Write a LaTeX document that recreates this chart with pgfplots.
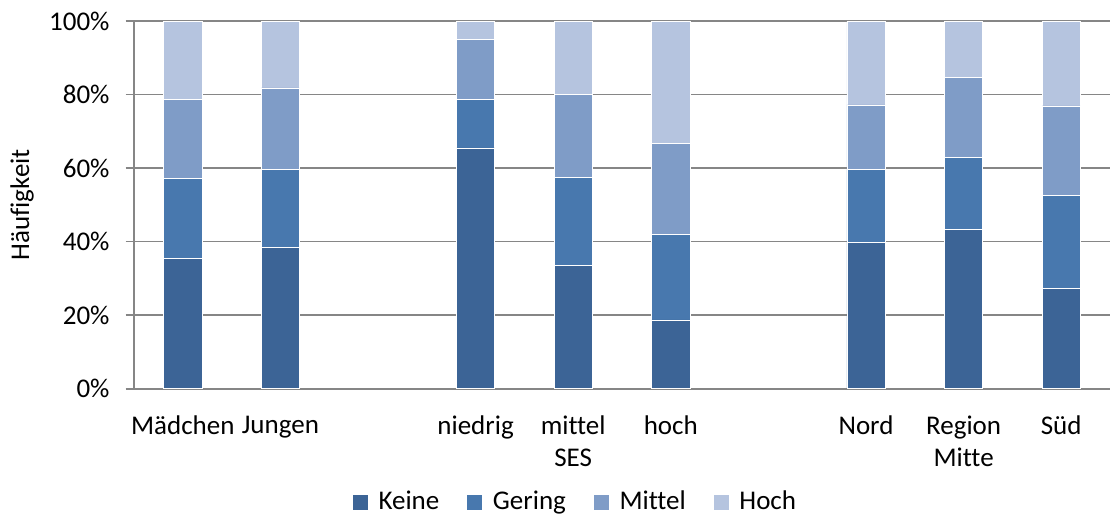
\documentclass[border=0pt]{standalone}
\usepackage{pgfplots}
\usepackage{pgfplotstable}
\pgfplotsset{compat=1.18}
\usepackage{fontspec}
\setmainfont{Carlito}[Ligatures=CommonOff]
\definecolor{cKeine}{HTML}{3C6496}
\definecolor{cGering}{HTML}{4878AE}
\definecolor{cMittel}{HTML}{7F9CC7}
\definecolor{cHoch}{HTML}{B5C4DF}
\definecolor{axgray}{HTML}{868686}
\pgfplotstableread{
x Keine Gering Mittel Hoch
0 35.4 21.9 21.4 21.3
1 38.4 21.2 22.2 18.2
3 65.5 13.1 16.3 5.1
4 33.5 23.9 22.7 19.9
5 18.7 23.2 24.9 33.2
7 39.7 19.9 17.6 22.8
8 43.3 19.5 21.8 15.4
9 27.3 25.2 24.4 23.1
}\data
\begin{document}
\begin{tikzpicture}[font=\fontsize{13.5}{16}\selectfont]
\path[use as bounding box] (-67pt,-63.15pt) rectangle (488pt,194.35pt);
\begin{axis}[
  at={(0,0)}, anchor=south west,
  scale only axis, width=488pt, height=183.85pt,
  ybar stacked, bar width=0.39,
  xmin=-0.5, xmax=9.5, ymin=0, ymax=100,
  axis x line*=bottom, axis y line*=left,
  axis line style={axgray, line width=0.8pt},
  every tick/.style={axgray, line width=0.8pt},
  tick align=outside,
  major tick length=4.2pt,
  xtick={0,1,3,4,5,7,8,9},
  xticklabels={M\"adchen,Jungen,niedrig,mittel\\SES,hoch,Nord,Region\\Mitte,S\"ud},
  x tick style={draw=none},
  minor xtick={-0.5,0.5,...,9.5},
  minor x tick style={axgray, line width=0.8pt},
  minor tick length=4.2pt,
  xticklabel style={align=center, font=\fontsize{13.5}{16}\selectfont, yshift=-6pt},
  ytick={0,20,40,60,80,100},
  yticklabels={0\%,20\%,40\%,60\%,80\%,100\%},
  yticklabel style={font=\fontsize{13.5}{16}\selectfont, xshift=-4.5pt},
  ymajorgrids,
  grid style={axgray, line width=0.8pt},
  ylabel={H\"aufigkeit},
  ylabel style={at={(axis description cs:-0.1147,0.5)}, anchor=center, rotate=0, font=\fontsize{13.5}{16}\selectfont},
  legend columns=-1,
  legend style={at={(0.4529,-0.308)}, anchor=center, draw=none, fill=none,
    font=\fontsize{13.5}{16}\selectfont,
    /tikz/every odd column/.append style={column sep=3pt},
    /tikz/every even column/.append style={column sep=11.5pt}},
  legend image code/.code={\fill[#1] (0pt,-4pt) rectangle (8pt,4pt);},
  every axis plot/.append style={draw=white, line width=0.3pt},
]
\addplot[fill=cKeine] table[x=x,y=Keine]{\data};
\addplot[fill=cGering] table[x=x,y=Gering]{\data};
\addplot[fill=cMittel] table[x=x,y=Mittel]{\data};
\addplot[fill=cHoch] table[x=x,y=Hoch]{\data};
\legend{Keine,Gering,Mittel,Hoch}
\end{axis}
\end{tikzpicture}
\end{document}
